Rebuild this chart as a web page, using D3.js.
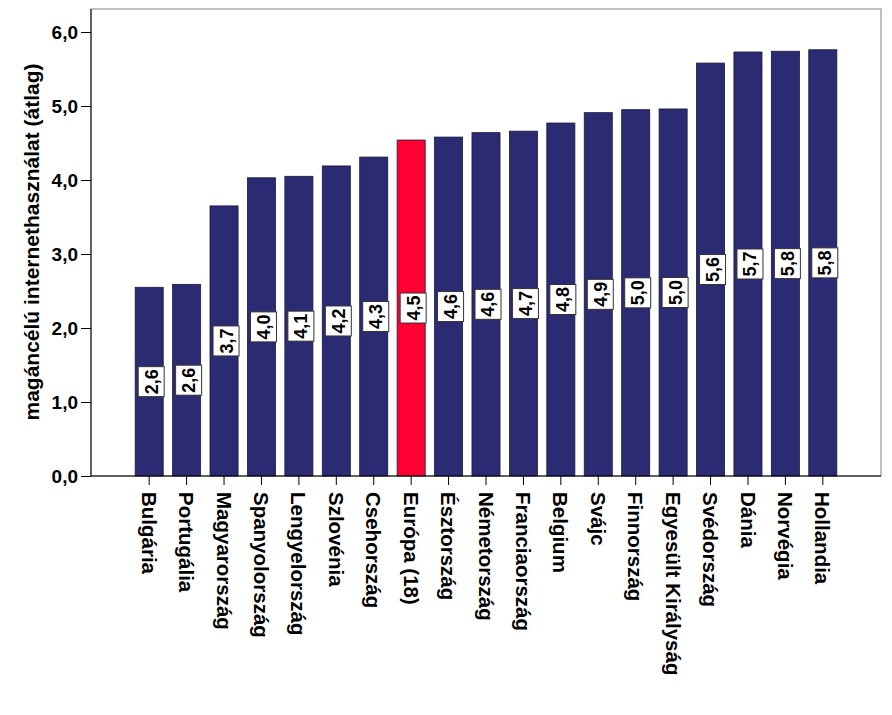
<!DOCTYPE html>
<html><head><meta charset="utf-8">
<script src="https://cdn.jsdelivr.net/npm/d3@7"></script>
<style>body{margin:0;background:#fff}svg{display:block}text{font-family:"Liberation Sans",Arial,sans-serif;font-weight:bold;fill:#000}</style>
</head><body>
<script>
const categories = ["Bulgária","Portugália","Magyarország","Spanyolország","Lengyelország","Szlovénia","Csehország","Európa (18)","Észtország","Németország","Franciaország","Belgium","Svájc","Finnország","Egyesült Királyság","Svédország","Dánia","Norvégia","Hollandia"];
const values = [2.55,2.59,3.65,4.03,4.05,4.19,4.31,4.54,4.58,4.64,4.66,4.77,4.91,4.95,4.96,5.58,5.73,5.74,5.76];
const valueLabels = ["2,6","2,6","3,7","4,0","4,1","4,2","4,3","4,5","4,6","4,6","4,7","4,8","4,9","5,0","5,0","5,6","5,7","5,8","5,8"];
const highlight = "Európa (18)";
const yTicks = [0,1,2,3,4,5,6];
const yTitle = "magáncélú internethasználat (átlag)";

(function(){
const W = 892, H = 715;
const mL = 91, mR = 881, mT = 9, mB = 476;
const FF = '"Liberation Sans",Arial,sans-serif';
const svg = d3.select("body").append("svg").attr("width", W).attr("height", H);

const x = d3.scaleBand().domain(categories).range([mL, mR]).paddingInner(0.25).paddingOuter(1.18);
const y = d3.scaleLinear().domain([0, 6]).range([mB, 32]);

svg.append("rect").attr("x", mL).attr("y", mT).attr("width", mR-mL).attr("height", mB-mT)
  .attr("fill", "#fff").attr("stroke", "#808080").attr("stroke-width", 1);

svg.selectAll("rect.bar").data(categories).enter().append("rect").attr("class","bar")
  .attr("x", d => x(d)).attr("width", x.bandwidth())
  .attr("y", (d,i) => y(values[i])).attr("height", (d,i) => y(0) - y(values[i]))
  .attr("fill", d => d === highlight ? "#FF0033" : "#2A2B72")
  .attr("stroke", "#1a1a3a").attr("stroke-width", 0.8);

const lab = svg.selectAll("g.lab").data(categories).enter().append("g").attr("class","lab")
  .attr("transform", (d,i) => `translate(${x(d)+x.bandwidth()/2+2},${(y(values[i])+y(0))/2}) rotate(-90)`);
lab.append("rect").attr("x", -15).attr("y", -13).attr("width", 30).attr("height", 26)
  .attr("fill", "#fff").attr("stroke", "#333").attr("stroke-width", 1);
lab.append("text").attr("text-anchor", "middle").attr("dy", "0.36em").style("font-size", "18px")
  .text((d,i) => valueLabels[i]);

const yAxis = d3.axisLeft(y).tickValues(yTicks).tickSize(10).tickPadding(3)
  .tickFormat(d => d3.format(".1f")(d).replace(".", ","));
const gy = svg.append("g").attr("transform", `translate(${mL},0)`).call(yAxis);
gy.select(".domain").attr("stroke", "#000").attr("d", `M0,${mT}V${mB}`);
gy.selectAll(".tick line").attr("stroke", "#000");
gy.selectAll("text").style("font-size", "19px").style("font-family", FF).style("font-weight", "bold");

const xAxis = d3.axisBottom(x).tickSize(9).tickPadding(0);
const gx = svg.append("g").attr("transform", `translate(0,${mB})`).call(xAxis);
gx.select(".domain").attr("stroke", "#000").attr("d", `M${mL},0H${mR}`);
gx.selectAll(".tick line").attr("stroke", "#000");
gx.selectAll("text").attr("transform", "rotate(90)").attr("x", 16).attr("y", 0).attr("dy", "0.36em")
  .attr("text-anchor", "start")
  .style("font-size", "20.5px").style("font-family", FF).style("font-weight", "bold");

svg.append("text").attr("transform", `translate(39,242) rotate(-90)`).attr("text-anchor", "middle")
  .style("font-size", "21px").text(yTitle);
})();
</script>
</body></html>
